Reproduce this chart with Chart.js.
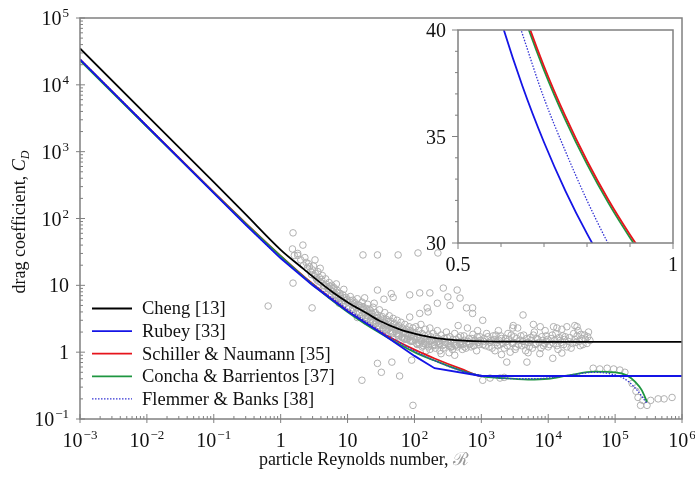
<!DOCTYPE html>
<html>
<head>
<meta charset="utf-8">
<script src="https://cdn.jsdelivr.net/npm/chart.js@4.4.0/dist/chart.umd.min.js"></script>
<style>
  html, body { margin: 0; padding: 0; background: #fff; }
  #wrap { position: relative; width: 695px; height: 481px; }
  #inset { position: absolute; left: 400px; top: 10px; }
</style>
</head>
<body>
<div id="wrap">
  <canvas id="main" width="695" height="481"></canvas>
  <canvas id="inset" width="290" height="270"></canvas>
</div>
<script>
const SERIF = '"Liberation Serif", "Times New Roman", serif';
const FRAME = '#808080';

// --- curves (main panel) ---
const reCheng = [0.001, 0.01, 0.1, 0.3, 1, 2, 3, 6, 10, 20, 30, 60, 100, 200, 600, 1000, 3000, 10000, 1000000];
const cdCheng = [35000, 3500, 350, 115, 34, 19, 13.6, 7.9, 5.6, 3.75, 2.95, 2.2, 1.9, 1.64, 1.48, 1.45, 1.44, 1.43, 1.43];

const reRubey = [0.001, 0.01, 0.1, 0.3, 1, 3, 10, 30, 60, 100, 200, 1000, 1000000];
const cdRubey = [24000, 2400, 240, 80.5, 25.4, 10.0, 4.1, 2.0, 1.25, 0.88, 0.575, 0.44, 0.44];

const reSchiller = [0.001, 0.01, 0.1, 0.3, 1, 3, 10, 30, 100, 200, 500, 1000, 1000000];
const cdSchiller = [24030, 2415, 247, 85.2, 27.6, 10.55, 4.15, 2.04, 1.09, 0.805, 0.561, 0.44, 0.44];

const reConcha = [0.001, 0.01, 0.1, 0.3, 1, 3, 10, 30, 100, 200, 500, 1000, 2000, 5000, 10000, 20000, 50000, 100000, 150000, 200000, 250000, 300000];
const cdConcha = [23150, 2350, 243, 84, 27.4, 10.3, 4.0, 1.95, 1.0, 0.75, 0.53, 0.44, 0.41, 0.39, 0.40, 0.45, 0.51, 0.50, 0.45, 0.36, 0.27, 0.18];

const reFlemmer = [0.001, 0.01, 0.1, 0.3, 1, 3, 10, 30, 100, 200, 500, 1000, 2000, 5000, 10000, 20000, 50000, 80000, 120000, 160000, 220000, 300000];
const cdFlemmer = [24150, 2447, 246, 81.4, 25.8, 10.6, 4.42, 2.11, 1.045, 0.746, 0.529, 0.45, 0.41, 0.40, 0.41, 0.45, 0.50, 0.48, 0.43, 0.36, 0.26, 0.17];

// --- experimental data (grey circles) ---
const reData = [
  17, 28, 57, 113, 224, 1.53, 2.15, 3.26, 1.8,
  85, 160, 270, 316, 435, 480, 600, 220, 120, 48, 170, 155, 120, 85, 740, 1050, 4200, 740, 2950, 7600, 13500, 19000, 27000, 340, 1.53, 0.65, 2.95,
  1.5, 1.6, 1.8, 2.0, 2.2, 2.4, 2.5, 2.7, 2.8, 3.0, 3.2, 2.3, 2.6, 2.9, 3.1,
  3.3, 3.5, 3.6, 3.8, 4.0, 4.2, 4.5, 4.7, 5.0, 5.3, 5.5, 5.8, 6.0, 6.3, 6.6, 7.0, 7.3, 7.7, 8.0, 8.5, 9.0, 9.5, 10, 4.3, 5.6, 7.5, 3.9, 6.8, 8.8,
  3.4, 3.7, 4.1, 4.4, 4.8, 5.1, 5.4, 5.9, 6.2, 6.5, 6.9, 7.2, 7.8, 8.3, 8.7, 9.2, 9.8,
  11, 11.5, 12, 13, 13.5, 14, 15, 16, 16.5, 17, 18, 19, 20, 21, 22, 23, 24, 26, 27, 28, 30, 31, 33, 35, 36, 38, 40, 42, 44, 46, 48, 50, 53, 55, 58, 60, 63, 66, 70, 72, 75, 80, 83, 86, 90, 95, 100, 18, 25, 28, 22, 35, 45, 14, 19,
  10.5, 11, 12, 12.5, 13, 14, 14.5, 15, 16, 17, 17.5, 18.5, 19.5, 20, 21, 22, 23, 24, 25, 26, 27, 28, 29, 30, 32, 33, 34, 36, 37, 39, 41, 43, 45, 47, 49, 51, 54, 56, 59, 62, 65, 68, 71, 74, 78, 82, 85, 88, 92, 97,
  12, 15, 19, 24, 30, 38, 47, 58, 72, 88, 20, 26, 34, 44, 56, 66, 79, 93,
  105, 110, 115, 120, 125, 130, 140, 145, 150, 160, 170, 180, 190, 200, 210, 220, 230, 250, 260, 280, 300, 320, 340, 360, 380, 400, 430, 460, 500, 520, 550, 600, 650, 700, 750, 800, 850, 900, 950, 130, 170, 240, 330, 450, 620, 880, 150, 250, 400, 70, 40, 110,
  102, 108, 112, 118, 122, 128, 135, 142, 148, 155, 162, 168, 175, 185, 195, 205, 215, 225, 240, 255, 270, 290, 310, 330, 350, 370, 390, 420, 440, 470, 490, 530, 560, 590, 630, 670, 720, 770, 820, 870, 920, 970,
  115, 138, 165, 198, 235, 280, 345, 410, 480, 560, 660, 780, 900,
  1050, 1100, 1200, 1300, 1400, 1500, 1600, 1700, 1800, 1900, 2000, 2200, 2400, 2500, 2700, 2900, 3100, 3300, 3500, 3800, 4000, 4300, 4600, 5000, 5400, 5800, 6200, 6600, 7000, 7500, 8000, 8500, 9000, 9500, 10000, 11000, 12000, 13000, 14000, 15000, 16000, 17000, 18000, 20000, 22000, 24000, 26000, 28000, 30000, 32000, 35000, 38000, 40000, 3000, 6000, 12000, 25000, 5000, 2000,
  1080, 1150, 1250, 1350, 1450, 1550, 1650, 1750, 1850, 1950, 2100, 2300, 2450, 2600, 2800, 3000, 3200, 3400, 3600, 3900, 4200, 4500, 4800, 5200, 5600, 6000, 6400, 6800, 7300, 7800, 8300, 8800, 9300, 9800, 10500, 11500, 12500, 13500, 14500, 15500, 16500, 17500, 19000, 21000, 23000, 25000, 27000, 29000, 31000, 33000, 36000, 39000, 42000,
  28, 46, 91, 16.4, 32, 60, 95, 1050, 1900, 2400, 4800, 1350, 2200, 11700, 16000,
  47000, 59000, 76000, 95000, 118000, 140000, 180000, 205000, 220000, 240000, 260000, 300000, 340000, 440000, 540000, 710000
];
const cdData = [
  28.5, 28.5, 28.5, 30.5, 30.5, 61, 40, 24, 28,
  7.2, 4.0, 9.1, 6.7, 8.5, 6.45, 4.6, 5.4, 7.7, 6.6, 7.7, 4.6, 3.8, 3.35, 4.6, 3.0, 3.6, 3.8, 2.3, 2.4, 2.3, 2.4, 2.4, 5.0, 10.8, 4.9, 4.6,
  35, 28, 30, 24, 20, 22, 18, 19, 16, 17, 14, 26, 21, 14.5, 19.5,
  15, 12, 16, 13, 11, 14, 10, 12.5, 9.5, 11, 8.5, 10, 8, 9.2, 7.3, 8.4, 6.8, 7.6, 6.3, 7.2, 5.9, 6.6, 5.6, 8.8, 7, 5.4, 18, 10.5, 8.7,
  12.8, 11.5, 12.2, 9.8, 10.4, 8.9, 9.7, 8.1, 8.9, 7.0, 7.9, 6.4, 6.9, 5.8, 6.5, 5.3, 6.1,
  6.8, 5.2, 6, 5.5, 4.6, 6.3, 5, 4.3, 5.6, 4.8, 3.9, 4.5, 5.2, 3.7, 4.2, 3.4, 4.7, 3.9, 3.2, 3.6, 4.3, 3.0, 3.4, 2.8, 3.9, 3.1, 2.6, 3.5, 2.9, 2.4, 3.2, 2.7, 2.3, 3.0, 2.5, 2.1, 2.8, 2.3, 2.0, 2.6, 2.2, 1.9, 2.4, 2.1, 1.8, 2.3, 1.95, 6.5, 5.4, 8.5, 2.9, 6.2, 7.5, 3.3, 2.9,
  4.8, 5.9, 4.4, 5.3, 4.9, 4.1, 5.1, 3.8, 4.7, 3.6, 4.3, 3.3, 4.0, 3.5, 4.4, 3.1, 3.8, 2.9, 3.4, 3.0, 2.7, 3.3, 2.5, 2.9, 2.6, 3.1, 2.3, 2.7, 2.2, 2.5, 2.9, 2.1, 2.4, 2.0, 2.6, 2.2, 1.9, 2.4, 1.8, 2.2, 1.7, 2.0, 1.6, 1.9, 1.55, 1.75, 1.5, 2.0, 1.45, 1.7,
  4.6, 3.9, 3.3, 2.8, 2.45, 2.15, 1.9, 1.7, 1.55, 1.45, 3.2, 2.7, 2.3, 2.0, 1.8, 1.65, 1.6, 1.5,
  2.4, 1.7, 2.1, 1.5, 2.6, 1.9, 1.6, 2.2, 1.4, 1.8, 2.3, 1.5, 1.9, 1.3, 1.7, 2.1, 1.45, 1.8, 1.25, 1.6, 2.0, 1.35, 1.7, 1.2, 1.55, 1.9, 1.3, 1.65, 1.45, 1.1, 1.75, 1.35, 1.6, 1.2, 1.85, 1.5, 1.05, 1.4, 1.7, 1.2, 1.1, 1.05, 0.98, 2.5, 2.3, 2.1, 1.05, 0.95, 0.9, 1.6, 2.2, 1.3,
  1.55, 1.35, 1.85, 1.3, 1.65, 1.45, 1.25, 1.75, 1.3, 1.55, 1.2, 1.45, 1.7, 1.25, 1.55, 1.15, 1.4, 1.6, 1.3, 1.5, 1.15, 1.4, 1.65, 1.25, 1.45, 1.1, 1.35, 1.55, 1.2, 1.4, 1.75, 1.3, 1.5, 1.15, 1.45, 1.3, 1.6, 1.25, 1.45, 1.7, 1.3, 1.5,
  1.4, 1.35, 1.3, 1.25, 1.35, 1.3, 1.2, 1.25, 1.3, 1.2, 1.35, 1.25, 1.4,
  1.3, 1.6, 1.9, 1.2, 1.5, 1.75, 1.05, 1.4, 2.1, 1.3, 1.6, 1.15, 1.45, 1.9, 1.0, 1.35, 1.7, 1.2, 2.3, 1.5, 1.25, 1.8, 1.05, 1.4, 1.65, 1.15, 2.0, 1.35, 1.55, 0.95, 1.7, 1.25, 2.1, 1.45, 1.2, 1.6, 1.35, 1.9, 1.1, 1.5, 2.2, 1.3, 1.7, 1.45, 1.15, 1.9, 1.4, 2.1, 1.25, 1.6, 1.8, 1.35, 2.0, 2.5, 2.6, 2.4, 2.5, 0.98, 0.92,
  1.45, 1.25, 1.7, 1.4, 1.15, 1.55, 1.8, 1.25, 1.5, 1.75, 1.35, 1.6, 1.25, 1.55, 1.8, 1.4, 1.1, 1.6, 1.3, 1.75, 1.45, 1.3, 1.6, 1.2, 1.5, 1.8, 1.3, 1.6, 1.4, 1.15, 1.5, 1.35, 1.75, 1.55, 1.3, 1.8, 1.5, 1.25, 1.65, 1.4, 1.75, 1.55, 1.2, 1.65, 1.35, 1.55, 1.75, 1.45, 1.85, 1.3, 1.55, 1.7, 1.5,
  0.68, 0.71, 0.76, 0.38, 0.5, 0.44, 0.16, 0.38, 0.41, 0.71, 0.71, 0.41, 0.42, 0.81, 0.97,
  0.575, 0.56, 0.575, 0.56, 0.54, 0.5, 0.34, 0.26, 0.21, 0.16, 0.19, 0.16, 0.19, 0.2, 0.2, 0.21
];

// --- inset (zoom near Re 0.5..1) ---
const reInset = [0.55, 0.6, 0.65, 0.7, 0.75, 0.8, 0.85, 0.9, 0.95];
const cdInsetRubey = [44.1, 40.44, 37.36, 34.73, 32.44, 30.44, 28.68, 27.1, 25.7];
const cdInsetSchiller = [48.0, 44.2, 41.04, 38.3, 35.94, 33.86, 32.02, 30.39, 28.92];
const cdInsetConcha = [47.8, 44.0, 40.85, 38.12, 35.77, 33.7, 31.87, 30.25, 28.79];
const cdInsetFlemmer = [46.7, 42.9, 39.8, 36.8, 34.3, 32.0, 29.95, 28.2, 26.7];

// --- ticks ---
const xTicks = [0.001, 0.01, 0.1, 1, 10, 100, 1000, 10000, 100000, 1000000];
const xTickBase = ['10', '10', '10', '1', '10', '10', '10', '10', '10', '10'];
const xTickSup = ['\u22123', '\u22122', '\u22121', '', '', '2', '3', '4', '5', '6'];
const yTicks = [0.1, 1, 10, 100, 1000, 10000, 100000];
const yTickBase = ['10', '1', '10', '10', '10', '10', '10'];
const yTickSup = ['\u22121', '', '', '2', '3', '4', '5'];
const insetXTicks = [0.5, 0.6, 0.7, 0.8, 0.9, 1];
const insetXLabels = ['0.5', '', '', '', '', '1'];
const insetYTicks = [30, 31, 32, 33, 34, 35, 36, 37, 38, 39, 40];
const insetYLabels = ['30', '', '', '', '', '35', '', '', '', '', '40'];

const legendLabels = ['Cheng [13]', 'Rubey [33]', 'Schiller & Naumann [35]', 'Concha & Barrientos [37]', 'Flemmer & Banks [38]'];
const colors = ['#000000', '#1414e6', '#e6141c', '#1e9640', '#3434d4'];
const widths = [1.8, 1.8, 1.8, 1.8, 1.3];
const dashes = [[], [], [], [], [1.5, 1.5]];

const pts = (xs, ys) => xs.map((x, i) => ({ x, y: ys[i] }));

function curve(i, xs, ys, order, straight) {
  return {
    type: 'line',
    label: legendLabels[i],
    data: pts(xs, ys),
    borderColor: colors[i],
    borderWidth: widths[i],
    borderDash: dashes[i],
    pointRadius: 0,
    fill: false,
    tension: 0,
    cubicInterpolationMode: straight ? 'default' : 'monotone',
    order
  };
}

function drawPow(ctx, base, sup, x, y, align) {
  ctx.font = '20px ' + SERIF;
  const wb = ctx.measureText(base).width;
  ctx.font = '13px ' + SERIF;
  const ws = sup ? ctx.measureText(sup).width + 1 : 0;
  const total = wb + ws;
  let left = x;
  if (align === 'center') left = x - total / 2;
  if (align === 'right') left = x - total;
  ctx.textAlign = 'left';
  ctx.textBaseline = 'alphabetic';
  ctx.font = '20px ' + SERIF;
  ctx.fillText(base, left, y);
  if (sup) {
    ctx.font = '13px ' + SERIF;
    ctx.fillText(sup, left + wb + 1, y - 8);
  }
}

function line(ctx, x1, y1, x2, y2) {
  ctx.beginPath();
  ctx.moveTo(x1, y1);
  ctx.lineTo(x2, y2);
  ctx.stroke();
}

const mainDecor = {
  id: 'mainDecor',
  afterDatasetsDraw(chart) {
    const { ctx, chartArea: a, scales: { x, y } } = chart;
    ctx.save();
    ctx.strokeStyle = FRAME;
    ctx.lineWidth = 1.5;
    ctx.strokeRect(a.left, a.top, a.right - a.left, a.bottom - a.top);

    // log ticks: majors cross the axis, minors point inward
    ctx.lineWidth = 1;
    for (let d = 0; d < xTicks.length; d++) {
      for (let m = 1; m <= 9; m++) {
        const v = xTicks[d] * m;
        if (v > x.max) break;
        const px = x.getPixelForValue(v);
        if (m === 1) line(ctx, px, a.bottom + 4, px, a.bottom - 5);
        else line(ctx, px, a.bottom, px, a.bottom - 3);
      }
    }
    for (let d = 0; d < yTicks.length; d++) {
      for (let m = 1; m <= 9; m++) {
        const v = yTicks[d] * m;
        if (v > y.max) break;
        const py = y.getPixelForValue(v);
        if (m === 1) line(ctx, a.left - 4, py, a.left + 5, py);
        else line(ctx, a.left, py, a.left + 3, py);
      }
    }

    ctx.fillStyle = '#111';
    xTicks.forEach((v, i) => drawPow(ctx, xTickBase[i], xTickSup[i], x.getPixelForValue(v), 447, 'center'));
    yTicks.forEach((v, i) => drawPow(ctx, yTickBase[i], yTickSup[i], 69, y.getPixelForValue(v) + 7, 'right'));

    // x title
    ctx.font = '18px ' + SERIF;
    const t1 = 'particle Reynolds number, ';
    const w1 = ctx.measureText(t1).width;
    const w2 = ctx.measureText('\u211B').width;
    const left = 364 - (w1 + w2) / 2;
    ctx.textAlign = 'left';
    ctx.fillText(t1, left, 465);
    ctx.fillStyle = '#9a9a9a';
    ctx.fillText('\u211B', left + w1, 465);

    // y title
    ctx.fillStyle = '#111';
    ctx.translate(25, 222);
    ctx.rotate(-Math.PI / 2);
    const s1 = 'drag coefficient, ';
    ctx.font = '18px ' + SERIF;
    const ws1 = ctx.measureText(s1).width;
    ctx.font = 'italic 18px ' + SERIF;
    const ws2 = ctx.measureText('C').width;
    ctx.font = 'italic 12px ' + SERIF;
    const ws3 = ctx.measureText('D').width;
    const start = -(ws1 + ws2 + ws3) / 2;
    ctx.font = '18px ' + SERIF;
    ctx.fillText(s1, start, 0);
    ctx.font = 'italic 18px ' + SERIF;
    ctx.fillText('C', start + ws1, 0);
    ctx.font = 'italic 12px ' + SERIF;
    ctx.fillText('D', start + ws1 + ws2, 4);
    ctx.setTransform(1, 0, 0, 1, 0, 0);

    // legend
    ctx.font = '18.5px ' + SERIF;
    ctx.textBaseline = 'middle';
    legendLabels.forEach((lab, i) => {
      const ly = 308.5 + i * 22.6;
      ctx.strokeStyle = colors[i];
      ctx.lineWidth = widths[i];
      ctx.setLineDash(dashes[i]);
      line(ctx, 92, ly, 132, ly);
      ctx.setLineDash([]);
      ctx.fillStyle = '#111';
      ctx.fillText(lab, 142, ly + 1);
    });
    ctx.restore();
  }
};

new Chart(document.getElementById('main'), {
  type: 'scatter',
  data: {
    datasets: [
      {
        type: 'scatter',
        label: 'data',
        data: pts(reData, cdData),
        pointStyle: 'circle',
        pointRadius: 3.3,
        borderWidth: 1,
        borderColor: '#b0b0b0',
        backgroundColor: 'rgba(0,0,0,0)',
        order: 10
      },
      curve(0, reCheng, cdCheng, 5, false),
      curve(2, reSchiller, cdSchiller, 4, false),
      curve(3, reConcha, cdConcha, 3, false),
      curve(4, reFlemmer, cdFlemmer, 2, false),
      curve(1, reRubey, cdRubey, 1, true)
    ]
  },
  options: {
    responsive: false,
    animation: false,
    events: [],
    layout: { padding: { left: 80, top: 18, right: 13, bottom: 62 } },
    plugins: { legend: { display: false }, tooltip: { enabled: false } },
    scales: {
      x: { type: 'logarithmic', min: 0.001, max: 1000000, display: false },
      y: { type: 'logarithmic', min: 0.1, max: 100000, display: false }
    }
  },
  plugins: [mainDecor]
});

const insetDecor = {
  id: 'insetDecor',
  beforeDatasetsDraw(chart) {
    const { ctx, chartArea: a } = chart;
    ctx.save();
    ctx.fillStyle = '#fff';
    ctx.fillRect(a.left, a.top, a.right - a.left, a.bottom - a.top);
    ctx.restore();
  },
  afterDatasetsDraw(chart) {
    const { ctx, chartArea: a, scales: { x, y } } = chart;
    ctx.save();
    ctx.strokeStyle = FRAME;
    ctx.lineWidth = 1.5;
    ctx.strokeRect(a.left, a.top, a.right - a.left, a.bottom - a.top);
    ctx.lineWidth = 1;
    ctx.fillStyle = '#111';
    ctx.font = '20px ' + SERIF;
    insetXTicks.forEach((v, i) => {
      const px = x.getPixelForValue(v);
      line(ctx, px, a.bottom, px, a.bottom + (insetXLabels[i] ? 6 : 4));
      if (insetXLabels[i]) {
        ctx.textAlign = 'center';
        ctx.textBaseline = 'alphabetic';
        ctx.fillText(insetXLabels[i], px, a.bottom + 28);
      }
    });
    insetYTicks.forEach((v, i) => {
      const py = y.getPixelForValue(v);
      line(ctx, a.left, py, a.left - (insetYLabels[i] ? 6 : 3), py);
      if (insetYLabels[i]) {
        ctx.textAlign = 'right';
        ctx.textBaseline = 'alphabetic';
        ctx.fillText(insetYLabels[i], a.left - 12, py + 7);
      }
    });
    ctx.restore();
  }
};

function insetCurve(i, ys, order) {
  return {
    type: 'line',
    label: legendLabels[i],
    data: pts(reInset, ys),
    borderColor: colors[i],
    borderWidth: widths[i],
    borderDash: dashes[i],
    pointRadius: 0,
    fill: false,
    cubicInterpolationMode: 'monotone',
    order
  };
}

new Chart(document.getElementById('inset'), {
  type: 'scatter',
  data: {
    datasets: [
      insetCurve(3, cdInsetConcha, 4),
      insetCurve(2, cdInsetSchiller, 3),
      insetCurve(4, cdInsetFlemmer, 2),
      insetCurve(1, cdInsetRubey, 1)
    ]
  },
  options: {
    responsive: false,
    animation: false,
    events: [],
    layout: { padding: { left: 58, top: 20, right: 17, bottom: 37 } },
    plugins: { legend: { display: false }, tooltip: { enabled: false } },
    scales: {
      x: { type: 'linear', min: 0.5, max: 1, display: false },
      y: { type: 'linear', min: 30, max: 40, display: false }
    }
  },
  plugins: [insetDecor]
});
</script>
</body>
</html>
